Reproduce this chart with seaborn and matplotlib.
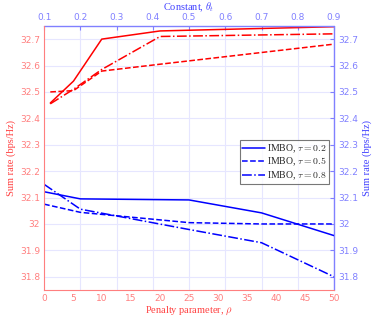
import numpy as np
import pandas as pd
import matplotlib
matplotlib.use("Agg")
import matplotlib.pyplot as plt
import seaborn as sns

sns.set_style("white")
plt.rcParams["font.family"] = ["DejaVu Sans"]
plt.rcParams["mathtext.fontset"] = "cm"

# blue curves vs penalty parameter rho (bottom axis)
rho = [0, 6.25, 25, 37.5, 50]
blue_tau02 = [32.122, 32.095, 32.091, 32.042, 31.956]
blue_tau05 = [32.075, 32.044, 32.005, 32.0, 32.0]
blue_tau08 = [32.150, 32.056, 31.979, 31.929, 31.800]

# red curves vs constant theta (top axis)
theta = [0.117, 0.181, 0.259, 0.42, 0.9]
red_solid = [32.458, 32.541, 32.700, 32.731, 32.747]
red_dashed = [32.500, 32.505, 32.579, 32.605, 32.681]
red_dashdot = [32.455, 32.510, 32.585, 32.710, 32.720]

labels = [r"IMBO, $\tau = 0.2$", r"IMBO, $\tau = 0.5$", r"IMBO, $\tau = 0.8$"]
styles = ["-", "--", "-."]

red_ax = "#ff7f7f"
blue_ax = "#8080ff"
grid_c = "#e6e6ff"
serif = "Liberation Serif"

fig = plt.figure(figsize=(3.74, 3.24), dpi=100)
pos = [0.118, 0.105, 0.775, 0.815]
ax1 = fig.add_axes(pos)
ax2 = fig.add_axes(pos, frameon=False)

# grid on top/right axes
ax2.grid(True, color=grid_c, linewidth=0.8)
ax2.set_axisbelow(True)

for y, ls, lab in zip([blue_tau02, blue_tau05, blue_tau08], styles, labels):
    sns.lineplot(x=rho, y=y, ax=ax1, color="blue", linestyle=ls, linewidth=1.1, label=lab)
for y, ls in zip([red_solid, red_dashed, red_dashdot], styles):
    sns.lineplot(x=theta, y=y, ax=ax2, color="red", linestyle=ls, linewidth=1.1)

ylim = (31.75, 32.75)
yt = np.arange(31.8, 32.71, 0.1)
ytl = ["31.8", "31.9", "32", "32.1", "32.2", "32.3", "32.4", "32.5", "32.6", "32.7"]

ax1.set_xlim(0, 50)
ax1.set_ylim(*ylim)
ax1.set_xticks(range(0, 51, 5))
ax1.set_yticks(yt)
ax1.set_yticklabels(ytl)
ax1.tick_params(direction="in", length=3, labelsize=6.5, colors=red_ax, pad=3)
ax1.set_xlabel(r"Penalty parameter, $\rho$", color="#ff4040", fontsize=7.5, family=serif, labelpad=1)
ax1.set_ylabel("Sum rate (bps/Hz)", color="#ff4040", fontsize=7.5, family=serif, labelpad=3)
for s in ["left", "bottom"]:
    ax1.spines[s].set_color(red_ax)
for s in ["top", "right"]:
    ax1.spines[s].set_visible(False)
ax1.set_zorder(2)
ax1.patch.set_alpha(0)

ax2.set_xlim(0.1, 0.9)
ax2.set_ylim(*ylim)
ax2.set_yticks(yt)
ax2.set_yticklabels(ytl)
ax2.xaxis.tick_top()
ax2.xaxis.set_label_position("top")
ax2.yaxis.tick_right()
ax2.yaxis.set_label_position("right")
ax2.tick_params(direction="in", length=3, labelsize=6.5, colors=blue_ax, pad=3)
ax2.set_xlabel(r"Constant, $\theta_t$", color="#4040ff", fontsize=7.5, family=serif, labelpad=2)
ax2.set_ylabel("Sum rate (bps/Hz)", color="#4040ff", fontsize=7.5, family=serif, labelpad=3)
ax2.axhline(ylim[1], color=blue_ax, linewidth=1.0, clip_on=False)
ax2.axvline(0.9, color=blue_ax, linewidth=1.0, clip_on=False)
ax2.set_zorder(1)

leg = ax1.legend(loc="upper right", bbox_to_anchor=(0.99, 0.575),
                 frameon=True, fancybox=False, edgecolor="#555555",
                 handlelength=2.4, borderpad=0.25, labelspacing=0.1, handletextpad=0.2,
                 borderaxespad=0.2, prop={"family": serif, "size": 7})
leg.get_frame().set_linewidth(0.8)

fig.savefig("out.png", dpi=100)
